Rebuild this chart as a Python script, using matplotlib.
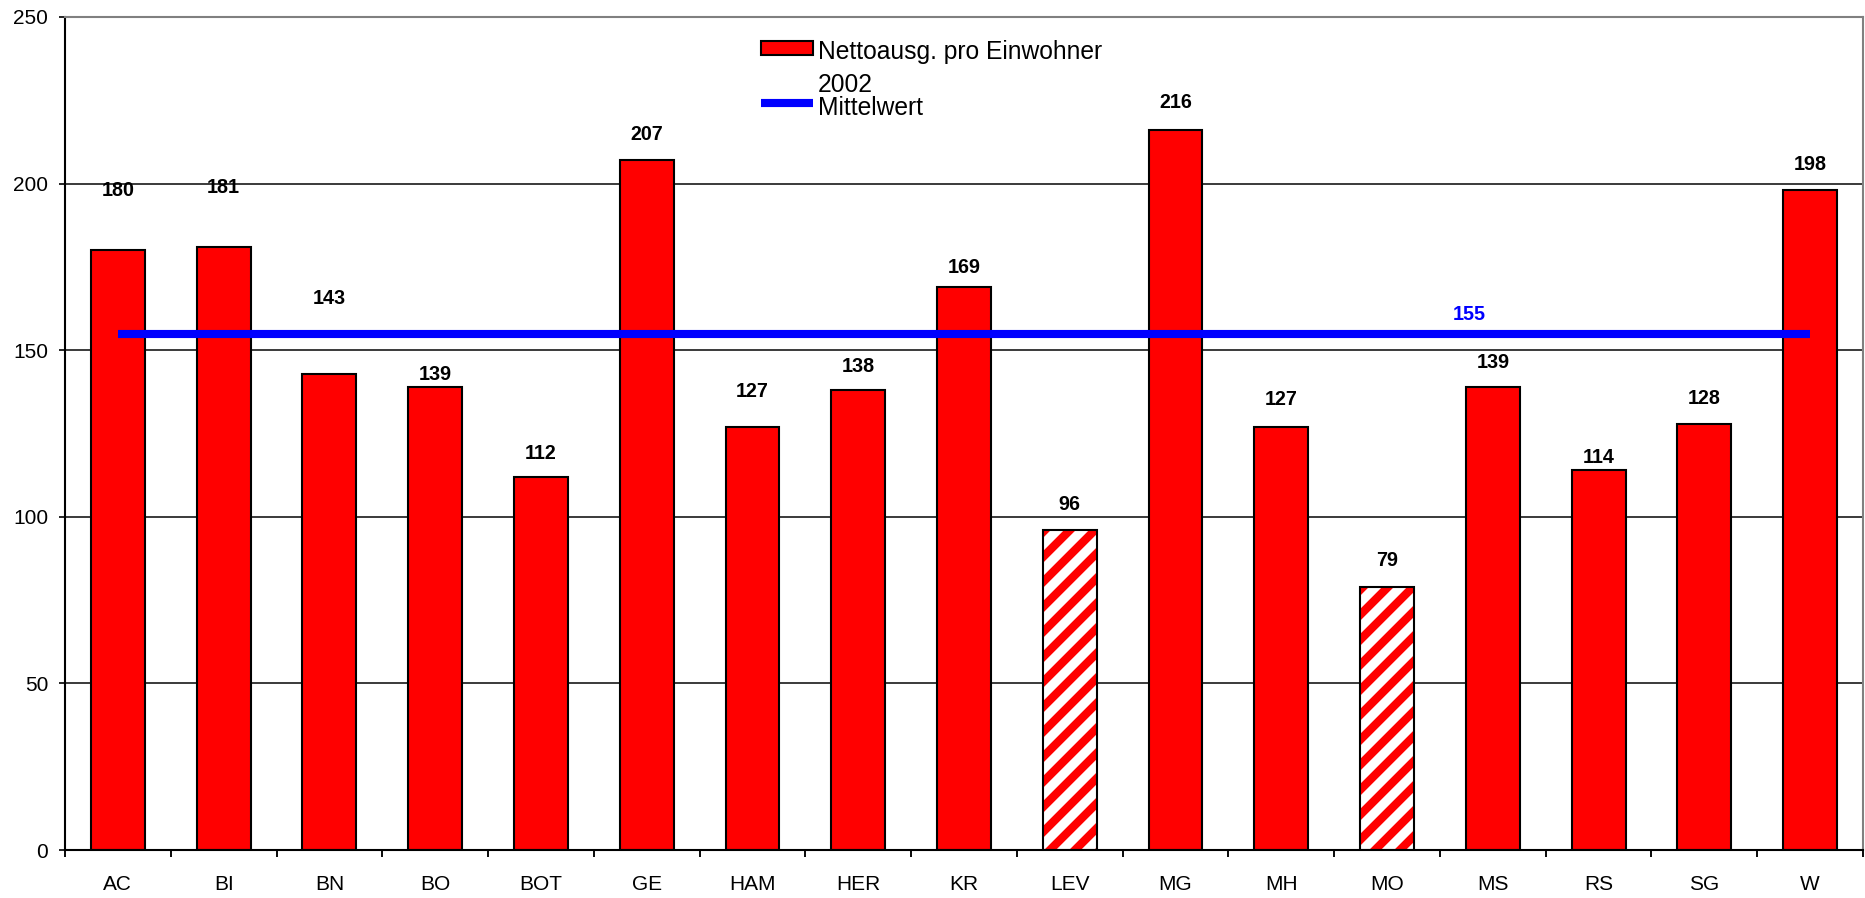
import matplotlib
matplotlib.use("Agg")
import matplotlib.pyplot as plt
from matplotlib.patches import Rectangle
from matplotlib.lines import Line2D
import numpy as np

plt.rcParams['font.family'] = ['Liberation Sans', 'DejaVu Sans']
plt.rcParams['hatch.linewidth'] = 4.0

# Data
cities = ["AC", "BI", "BN", "BO", "BOT", "GE", "HAM", "HER", "KR", "LEV",
          "MG", "MH", "MO", "MS", "RS", "SG", "W"]
net_per_resident = [180, 181, 143, 139, 112, 207, 127, 138, 169, 96,
                    216, 127, 79, 139, 114, 128, 198]
hatched = ["LEV", "MO"]
mean_value = 155
# vertical placement of each value label (data units)
label_pos = [198, 198.7, 165.5, 142.7, 119, 214.8, 137.7, 145, 174.8, 103.8,
             224.4, 135.2, 87, 146.3, 117.7, 135.6, 205.6]

DPI = 150
fig = plt.figure(figsize=(1865 / DPI, 898 / DPI), dpi=DPI)
ax = fig.add_axes([65 / 1865, 1 - 850 / 898, 1798 / 1865, 833 / 898])

x = np.arange(len(cities))
width = 0.51

solid_idx = [i for i, c in enumerate(cities) if c not in hatched]
hatch_idx = [i for i, c in enumerate(cities) if c in hatched]

ax.bar(x[solid_idx], [net_per_resident[i] for i in solid_idx], width=width,
       color="#ff0000", edgecolor="black", linewidth=1.0, zorder=2)
ax.bar(x[hatch_idx], [net_per_resident[i] for i in hatch_idx], width=width,
       color="white", edgecolor="#ff0000", hatch="//", linewidth=0, zorder=2)
ax.bar(x[hatch_idx], [net_per_resident[i] for i in hatch_idx], width=width,
       fill=False, edgecolor="black", linewidth=1.0, zorder=3)

# mean line across categories
ax.plot([x[0], x[-1]], [mean_value, mean_value], color="#0000ff", lw=3.9,
        solid_capstyle="butt", zorder=4)
ax.text(12.78, 160.6, f"{mean_value}", color="#0000ff", fontsize=9.5,
        fontweight="bold", ha="center", va="center", zorder=5)

for xi, v, ly in zip(x, net_per_resident, label_pos):
    ax.text(xi, ly, f"{v}", fontsize=9.5, fontweight="bold", ha="center",
            va="center", color="black", zorder=5)

ax.set_xlim(-0.5, len(cities) - 0.5)
ax.set_ylim(0, 250)
ax.set_yticks([0, 50, 100, 150, 200, 250])
ax.tick_params(axis="y", direction="out", length=3, width=0.8, labelsize=10, pad=5)

ax.set_xticks(np.arange(-0.5, len(cities), 1))
ax.set_xticklabels([])
ax.set_xticks(x, minor=True)
ax.set_xticklabels(cities, minor=True)
ax.tick_params(axis="x", which="major", direction="out", length=3.5, width=0.9)
ax.tick_params(axis="x", which="minor", length=0, labelsize=10, pad=12)

ax.yaxis.grid(True, color="#333333", linewidth=0.9)
ax.set_axisbelow(True)

for side in ["left", "bottom"]:
    ax.spines[side].set_color("black")
    ax.spines[side].set_linewidth(1.0)
for side in ["top", "right"]:
    ax.spines[side].set_color("#808080")
    ax.spines[side].set_linewidth(1.0)

# legend
def fx(px):
    return px / 1865

def fy(py):
    return 1 - py / 898

fig.patches.append(Rectangle((fx(761), fy(55)), fx(813) - fx(761), fy(41) - fy(55),
                             transform=fig.transFigure, facecolor="#ff0000",
                             edgecolor="black", linewidth=1.0))
fig.lines.append(Line2D([fx(761), fx(813)], [fy(103), fy(103)],
                        transform=fig.transFigure, color="#0000ff", lw=3.9,
                        solid_capstyle="butt"))
fig.text(fx(818), fy(52), "Nettoausg. pro Einwohner", fontsize=11.8,
         ha="left", va="center")
fig.text(fx(818), fy(85), "2002", fontsize=11.8, ha="left", va="center")
fig.text(fx(818), fy(108), "Mittelwert", fontsize=11.8, ha="left", va="center")

fig.savefig("out.png", dpi=DPI)
